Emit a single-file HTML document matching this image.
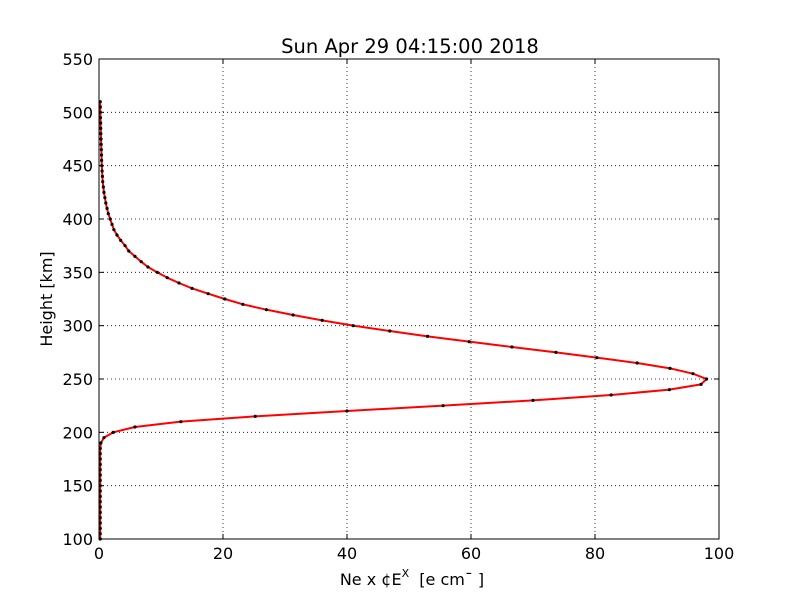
<!DOCTYPE html>
<html><head><meta charset="utf-8"><style>
body{margin:0;background:#fff;width:800px;height:600px;overflow:hidden}
svg{display:block;font-family:"DejaVu Sans","Liberation Sans",sans-serif}
</style></head><body>
<svg id="chart" width="800" height="600">
<rect width="800" height="600" fill="#fff"/>
<text x="410" y="53" font-size="19.5" text-anchor="middle">Sun Apr 29 04:15:00 2018</text>
<text x="412" y="585" font-size="16" text-anchor="middle">Ne x ¢E<tspan dy="-8" font-size="11">X</tspan><tspan dy="8">&#160;&#160;[e cm¯&#160;]</tspan></text>
<text transform="translate(52,299) rotate(-90)" font-size="16" text-anchor="middle">Height [km]</text>
<g id="grid"></g><g id="ticks"></g><g id="series"></g>
<rect x="99" y="59" width="620" height="480" fill="none" stroke="#000" stroke-width="1"/>
</svg>
<script>
const heights=[100,105,110,115,120,125,130,135,140,145,150,155,160,165,170,175,180,185,190,195,200,205,210,215,220,225,230,235,240,245,250,255,260,265,270,275,280,285,290,295,300,305,310,315,320,325,330,335,340,345,350,355,360,365,370,375,380,385,390,395,400,405,410,415,420,425,430,435,440,445,450,455,460,465,470,475,480,485,490,495,500,505,510];
const density=[0.2,0.2,0.2,0.2,0.2,0.2,0.2,0.2,0.2,0.2,0.2,0.2,0.2,0.2,0.2,0.2,0.2,0.2,0.3,0.8,2.3,5.8,13.2,25.2,40,55.5,70,82.6,92,97.1,98,95.8,92.1,86.8,80.3,73.7,66.6,59.7,53,46.9,41,36,31.3,27,23.2,20.3,17.6,15,12.9,11,9.4,7.9,6.8,5.8,4.8,4.2,3.5,2.9,2.4,2.1,1.8,1.5,1.3,1.1,0.95,0.8,0.7,0.6,0.55,0.5,0.45,0.42,0.4,0.38,0.35,0.33,0.3,0.28,0.26,0.24,0.22,0.21,0.2];
const xTicks=[0,20,40,60,80,100];
const yTicks=[100,150,200,250,300,350,400,450,500,550];
const X0=99,X1=719,Y0=539,Y1=59;
const sx=v=>X0+(v-0)/(100-0)*(X1-X0);
const sy=v=>Y0-(v-100)/(550-100)*(Y0-Y1);
const NS="http://www.w3.org/2000/svg";
function mk(tag,attrs,parent){const e=document.createElementNS(NS,tag);for(const k in attrs)e.setAttribute(k,attrs[k]);parent.appendChild(e);return e;}
const grid=document.getElementById('grid'),ticks=document.getElementById('ticks'),series=document.getElementById('series');
xTicks.forEach(t=>{const x=sx(t);
 const g=mk('line',{x1:x,x2:x,y1:Y1,y2:Y0,stroke:'#000','stroke-dasharray':'1,3','stroke-width':0.8},grid);
 
 
 mk('line',{x1:x,x2:x,y1:Y0,y2:Y0-5,stroke:'#000'},ticks);
 mk('line',{x1:x,x2:x,y1:Y1,y2:Y1+5,stroke:'#000'},ticks);
 const l=mk('text',{x:x,y:Y0+20,'font-size':16,'text-anchor':'middle'},ticks);l.textContent=t;
 
 
});
yTicks.forEach(t=>{const y=sy(t);
 const g=mk('line',{x1:X0,x2:X1,y1:y,y2:y,stroke:'#000','stroke-dasharray':'1,3','stroke-width':0.8},grid);
 
 
 mk('line',{x1:X0,x2:X0+5,y1:y,y2:y,stroke:'#000'},ticks);
 mk('line',{x1:X1,x2:X1-5,y1:y,y2:y,stroke:'#000'},ticks);
 const l=mk('text',{x:X0-6,y:y+6,'font-size':16,'text-anchor':'end'},ticks);l.textContent=t;
 
 
});
const pts=heights.map((h,i)=>sx(density[i])+','+sy(h)).join(' ');
const line=mk('polyline',{points:pts,fill:'none',stroke:'#f00','stroke-width':2,'stroke-linejoin':'round'},series);


heights.forEach((h,i)=>{const c=mk('circle',{cx:sx(density[i]),cy:sy(h),r:1.6,fill:'#000'},series);
 
 
});
</script>
</body></html>
